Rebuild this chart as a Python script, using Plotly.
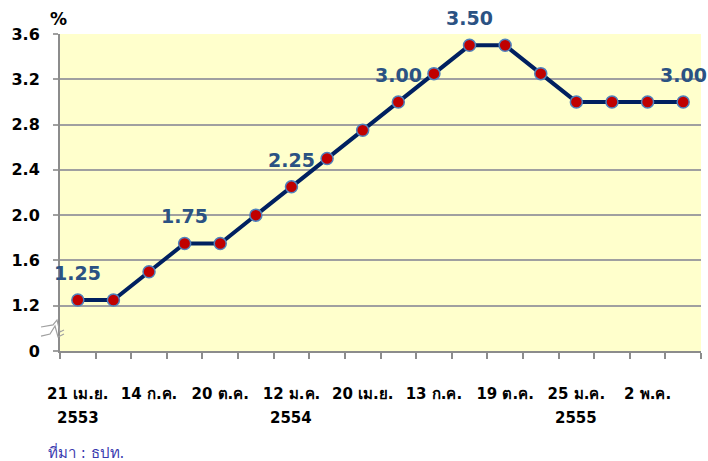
import plotly.graph_objects as go

dates = ["21 เม.ย.", "2 มิ.ย.", "14 ก.ค.", "25 ส.ค.", "20 ต.ค.", "1 ธ.ค.",
         "12 ม.ค.", "9 มี.ค.", "20 เม.ย.", "1 มิ.ย.", "13 ก.ค.", "24 ส.ค.",
         "19 ต.ค.", "30 พ.ย.", "25 ม.ค.", "7 มี.ค.", "2 พ.ค.", "13 มิ.ย."]
rates = [1.25, 1.25, 1.50, 1.75, 1.75, 2.00, 2.25, 2.50, 2.75, 3.00,
         3.25, 3.50, 3.50, 3.25, 3.00, 3.00, 3.00, 3.00]
label_idx = [0, 3, 6, 9, 11, 17]
year_idx = [0, 6, 14]
years = ["2553", "2554", "2555"]
ytick_vals = [0.8, 1.2, 1.6, 2.0, 2.4, 2.8, 3.2, 3.6]
ytick_text = ["0", "1.2", "1.6", "2.0", "2.4", "2.8", "3.2", "3.6"]

x = list(range(len(rates)))
shown_ticks = [i for i in x if i % 2 == 0]

FONT = "Tahoma, DejaVu Sans, Noto Sans, sans-serif"

fig = go.Figure()
fig.add_trace(go.Scatter(
    x=x, y=rates, mode="lines+markers",
    line=dict(color="#002060", width=4),
    marker=dict(size=12, color="#C00000", line=dict(color="#4F81BD", width=1.5)),
    hoverinfo="x+y", showlegend=False,
))

annotations = []
for i in label_idx:
    annotations.append(dict(
        x=x[i], y=rates[i], xref="x", yref="y", text=f"<b>{rates[i]:.2f}</b>",
        showarrow=False, yshift=27,
        font=dict(family=FONT, size=19, color="#2B5283"),
    ))
for i, yr in zip(year_idx, years):
    annotations.append(dict(
        x=x[i], y=-0.21, xref="x", yref="paper", yanchor="middle",
        text=f"<b>{yr}</b>", showarrow=False,
        font=dict(family=FONT, size=15, color="#000000"),
    ))
annotations.append(dict(
    x=-0.5, y=1.0, xref="x", yref="paper", xanchor="center", yanchor="bottom",
    text="<b>%</b>", showarrow=False, yshift=3, xshift=-2,
    font=dict(family=FONT, size=17, color="#000000"),
))
annotations.append(dict(
    x=0.0, y=-0.32, xref="paper", yref="paper", text="ที่มา : ธปท.",
    showarrow=False, xanchor="left", yanchor="middle", xshift=-14,
    font=dict(family=FONT, size=15, color="#3B3BAF"),
))

zig_color = "#A0A0A0"
shapes = [
    dict(type="path", xref="paper", yref="y",
         path="M -0.0296 1.012 L -0.0109 1.030 L -0.0047 1.074 L 0 0.968 L 0.0062 0.985",
         line=dict(color=zig_color, width=1.2)),
    dict(type="path", xref="paper", yref="y",
         path="M -0.0296 0.932 L -0.0156 0.950 L -0.0078 1.021 L -0.0031 0.924 L 0.0062 0.950",
         line=dict(color=zig_color, width=1.2)),
]

fig.update_layout(
    width=708, height=461,
    margin=dict(l=60, r=7, t=34, b=110),
    paper_bgcolor="white",
    plot_bgcolor="#FFFFCC",
    annotations=annotations,
    shapes=shapes,
    xaxis=dict(
        range=[-0.5, 17.5], tickmode="array", tickvals=shown_ticks,
        ticktext=[dates[i] for i in shown_ticks],
        ticks="", showgrid=False, zeroline=False,
        showline=True, linecolor="#8C8C8C", linewidth=2,
        tickfont=dict(family=FONT, size=15, color="#000000", weight="bold"),
        ticklabelstandoff=28,
        minor=dict(tickmode="linear", tick0=-0.5, dtick=1, ticks="outside",
                   ticklen=6, tickcolor="#8C8C8C", tickwidth=1.5, showgrid=False),
    ),
    yaxis=dict(
        range=[0.8, 3.6], tickmode="array", tickvals=ytick_vals, ticktext=ytick_text,
        ticks="outside", ticklen=5, tickcolor="#A0A0A0", tickwidth=1.5,
        showgrid=True, gridcolor="#A0A0A0", gridwidth=1.5,
        zeroline=False, showline=True, linecolor="#8C8C8C", linewidth=2,
        tickfont=dict(family=FONT, size=16, color="#000000", weight="bold"),
        ticklabelstandoff=10,
    ),
)

fig.write_html("out.html", config={"displayModeBar": False},
               post_script="document.body.style.margin='0';")
